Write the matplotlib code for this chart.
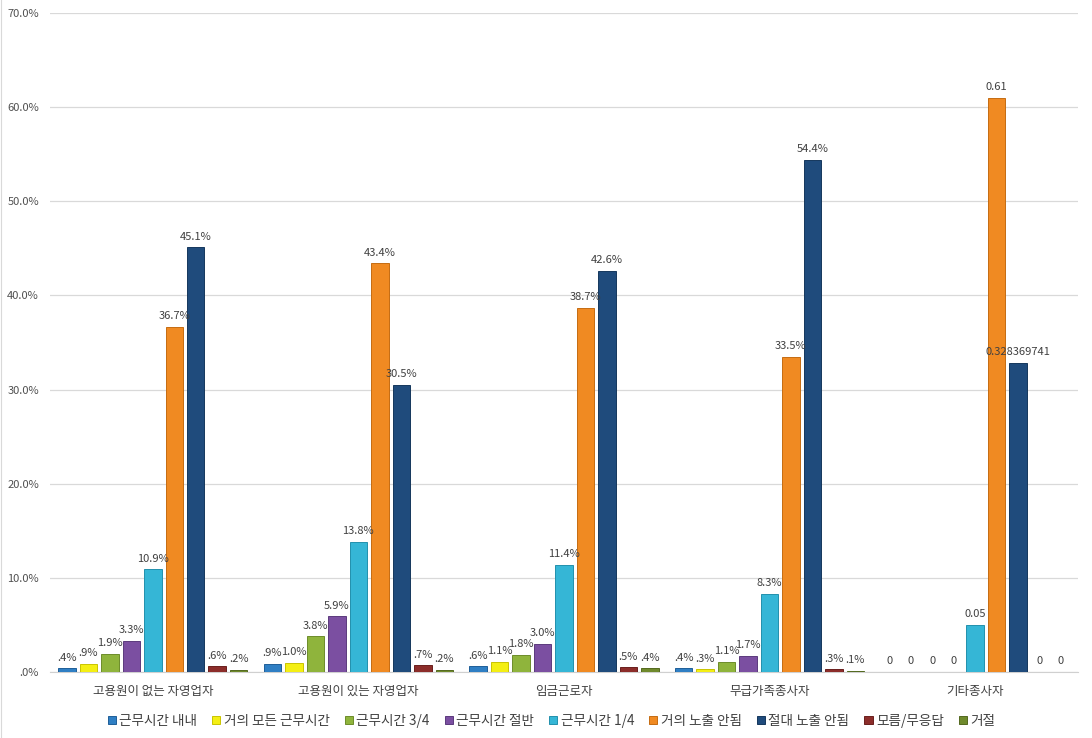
import matplotlib
matplotlib.use("Agg")
import matplotlib.pyplot as plt
import numpy as np

plt.rcParams['font.family'] = ['Noto Sans CJK KR', 'DejaVu Sans']

# 데이터
categories = ["고용원이 없는 자영업자", "고용원이 있는 자영업자", "임금근로자", "무급가족종사자", "기타종사자"]
series_names = ["근무시간 내내", "거의 모든 근무시간", "근무시간 3/4", "근무시간 절반", "근무시간 1/4",
                "거의 노출 안됨", "절대 노출 안됨", "모름/무응답", "거절"]
s_always = [0.004, 0.009, 0.006, 0.004, 0]
s_almost_all = [0.009, 0.010, 0.011, 0.003, 0]
s_three_q = [0.019, 0.038, 0.018, 0.011, 0]
s_half = [0.033, 0.059, 0.030, 0.017, 0]
s_quarter = [0.109, 0.138, 0.114, 0.083, 0.05]
s_rarely = [0.367, 0.434, 0.387, 0.335, 0.61]
s_never = [0.451, 0.305, 0.426, 0.544, 0.328369741]
s_unknown = [0.006, 0.007, 0.005, 0.003, 0]
s_refused = [0.002, 0.002, 0.004, 0.001, 0]
# 마지막 범주는 원본에서 일반 숫자 형식으로 표시됨
general_fmt = [False, False, False, False, True]

series = [s_always, s_almost_all, s_three_q, s_half, s_quarter, s_rarely, s_never, s_unknown, s_refused]
colors = ["#2f7fc4", "#f4ef14", "#8fb43c", "#7b4fa1", "#35b6d6",
          "#f08a22", "#1f4b7c", "#8c2d2a", "#6f8a2c"]
edges = ["#1f5f98", "#c9c400", "#6d8c2a", "#5c3a7d", "#2290ad",
         "#c56c12", "#15375c", "#6a1f1d", "#53691f"]


def pct(v):
    s = f"{v * 100:.1f}%"
    return s[1:] if s.startswith("0") else s


def gen(v):
    return "0" if v == 0 else str(v)


fig = plt.figure(figsize=(10.92, 7.38), dpi=100)
ax = fig.add_axes([0.0458, 0.0894, 0.9412, 0.8930])

x = np.arange(len(categories))
step = 0.1045
width = 0.085
n = len(series)
for i, (vals, col) in enumerate(zip(series, colors)):
    pos = x + (i - (n - 1) / 2) * step
    bars = ax.bar(pos, vals, width, color=col, edgecolor=edges[i], linewidth=0.7,
                  label=series_names[i], zorder=3)
    for b, v, g in zip(bars, vals, general_fmt):
        txt = gen(v) if g else pct(v)
        ax.text(b.get_x() + b.get_width() / 2, v + 0.006, txt, ha="center", va="bottom",
                fontsize=8, color="#404040", zorder=4)

ax.set_xlim(-0.5, len(categories) - 0.5)
ax.set_ylim(0, 0.70)
ax.set_yticks(np.arange(0, 0.71, 0.1))
ax.set_yticklabels([pct(t) for t in np.arange(0, 0.71, 0.1)], fontsize=8, color="#505050")
ax.set_xticks(x)
ax.set_xticklabels(categories, fontsize=9, color="#404040")
ax.tick_params(axis="both", length=0)
ax.tick_params(axis="x", pad=9)
ax.tick_params(axis="y", pad=8)
ax.grid(axis="y", color="#d9d9d9", linewidth=0.9, zorder=0)
for sp in ["top", "right", "left"]:
    ax.spines[sp].set_visible(False)
ax.spines["bottom"].set_color("#d0d0d0")

ax.legend(loc="upper center", bbox_to_anchor=(0.488, -0.045), ncol=9, frameon=False,
          fontsize=9.8, handlelength=0.6, handleheight=0.6, handletextpad=0.25,
          columnspacing=1.1, labelcolor="#404040")

# 왼쪽 테두리선
fig.add_artist(plt.Line2D([0.001, 0.001], [0, 1], color="#d9d9d9", linewidth=0.8))

fig.savefig("out.png", dpi=100)
